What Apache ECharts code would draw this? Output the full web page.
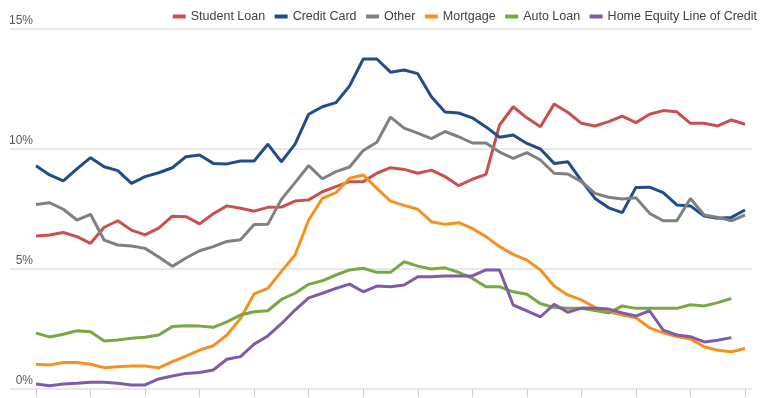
<!DOCTYPE html>
<html>
<head>
<meta charset="utf-8">
<script src="https://cdn.jsdelivr.net/npm/echarts@6/dist/echarts.min.js"></script>
<style>
html,body{margin:0;padding:0;background:#fff;}
#chart{width:775px;height:398px;}
</style>
</head>
<body>
<div id="chart"></div>
<script>
// Quarterly categories (2003 Q1 .. 2016 Q1)
const quarters = [];
for (let y = 2003; y <= 2016; y++) {
  for (let q = 1; q <= 4; q++) {
    if (y === 2016 && q > 1) break;
    quarters.push(String(y).slice(2) + ':Q' + q);
  }
}
const yTicks = [0, 5, 10, 15];

const studentLoan = [6.38,6.42,6.52,6.35,6.07,6.74,7.01,6.62,6.42,6.70,7.20,7.18,6.88,7.30,7.63,7.53,7.41,7.57,7.58,7.83,7.88,8.22,8.43,8.64,8.64,8.99,9.22,9.15,8.99,9.12,8.85,8.47,8.74,8.94,11.00,11.76,11.30,10.93,11.87,11.53,11.07,10.96,11.14,11.37,11.10,11.45,11.60,11.55,11.07,11.07,10.96,11.21,11.03];
const creditCard = [9.30,8.92,8.67,9.17,9.64,9.26,9.10,8.57,8.85,9.01,9.22,9.68,9.75,9.40,9.38,9.50,9.50,10.20,9.47,10.20,11.45,11.76,11.93,12.63,13.75,13.75,13.20,13.29,13.14,12.18,11.54,11.50,11.30,10.92,10.49,10.58,10.23,10.00,9.40,9.47,8.68,7.94,7.55,7.35,8.40,8.41,8.18,7.67,7.63,7.21,7.11,7.15,7.46];
const other = [7.69,7.76,7.49,7.04,7.28,6.20,6.00,5.96,5.86,5.50,5.11,5.46,5.76,5.93,6.15,6.22,6.85,6.86,7.90,8.60,9.31,8.76,9.06,9.25,9.94,10.28,11.33,10.87,10.66,10.43,10.73,10.51,10.25,10.25,9.87,9.61,9.85,9.54,8.99,8.96,8.64,8.15,7.99,7.92,7.97,7.32,7.01,7.01,7.94,7.25,7.15,7.01,7.25];
const mortgage = [1.03,1.00,1.10,1.10,1.03,0.89,0.93,0.96,0.96,0.88,1.14,1.37,1.62,1.80,2.25,2.94,3.96,4.19,4.90,5.58,7.04,7.94,8.18,8.78,8.92,8.36,7.83,7.65,7.49,6.97,6.86,6.93,6.69,6.35,5.93,5.61,5.37,4.96,4.29,3.92,3.71,3.40,3.22,3.08,2.97,2.55,2.34,2.18,2.09,1.76,1.61,1.55,1.69];
const autoLoan = [2.33,2.17,2.28,2.43,2.39,2.00,2.04,2.11,2.16,2.25,2.60,2.64,2.62,2.57,2.80,3.08,3.22,3.26,3.73,3.99,4.36,4.51,4.75,4.96,5.03,4.86,4.86,5.30,5.12,5.00,5.05,4.86,4.61,4.26,4.26,4.05,3.95,3.55,3.40,3.36,3.36,3.27,3.17,3.46,3.36,3.36,3.36,3.36,3.51,3.46,3.60,3.77];
const homeEquity = [0.21,0.14,0.21,0.24,0.28,0.28,0.24,0.17,0.17,0.42,0.54,0.65,0.69,0.79,1.24,1.35,1.87,2.21,2.72,3.29,3.80,3.99,4.19,4.37,4.05,4.29,4.26,4.33,4.68,4.68,4.71,4.71,4.71,4.96,4.96,3.50,3.26,3.01,3.53,3.20,3.37,3.36,3.33,3.17,3.04,3.26,2.45,2.25,2.18,1.96,2.03,2.14];

const seriesNames = ['Student Loan','Credit Card','Other','Mortgage','Auto Loan','Home Equity Line of Credit'];
const seriesData = [studentLoan, creditCard, other, mortgage, autoLoan, homeEquity];
const colors = ['#c9504e','#1f4e8a','#808080','#f59120','#79a843','#7f5ba8'];

const chart = echarts.init(document.getElementById('chart'), null, {renderer:'canvas'});
const font = 'Liberation Sans, Arial, Helvetica, sans-serif';
chart.setOption({
  animation: false,
  backgroundColor: '#fff',
  color: colors,
  textStyle: {fontFamily: font},
  legend: {
    data: seriesNames,
    right: 13,
    top: 5,
    icon: 'rect',
    itemWidth: 13,
    itemHeight: 4,
    itemGap: 9.5,
    textStyle: {fontSize: 12.5, color: '#404040', fontFamily: font}
  },
  grid: [
    {left: 10, right: 23, top: 29, bottom: 9},
    {left: 36, right: 30, top: 29, bottom: 9}
  ],
  xAxis: [
    {gridIndex: 0, type: 'value', show: false, min: 0, max: 1},
    {gridIndex: 1, type: 'category', data: quarters, boundaryGap: false,
     axisLine: {show: false},
     axisTick: {show: true, interval: 3, length: 8, lineStyle: {color: '#cccccc', width: 1}},
     axisLabel: {show: false},
     splitLine: {show: false}}
  ],
  yAxis: [
    {gridIndex: 0, type: 'value', min: yTicks[0], max: yTicks[yTicks.length-1], interval: 5,
     axisLine: {show: false}, axisTick: {show: false},
     splitLine: {show: true, lineStyle: {color: '#e8e8e8', width: 2}},
     axisLabel: {inside: true, align: 'right', margin: 23, verticalAlign: 'bottom',
       padding: [0,0,2,0], fontSize: 12, color: '#595959', fontFamily: font,
       formatter: v => v + '%'}},
    {gridIndex: 1, type: 'value', min: yTicks[0], max: yTicks[yTicks.length-1], show: false}
  ],
  series: seriesNames.map((n, i) => ({
    name: n,
    type: 'line',
    xAxisIndex: 1,
    yAxisIndex: 1,
    data: seriesData[i],
    showSymbol: false,
    symbol: 'none',
    lineStyle: {width: 3, color: colors[i]},
    itemStyle: {color: colors[i]}
  }))
});
</script>
</body>
</html>
